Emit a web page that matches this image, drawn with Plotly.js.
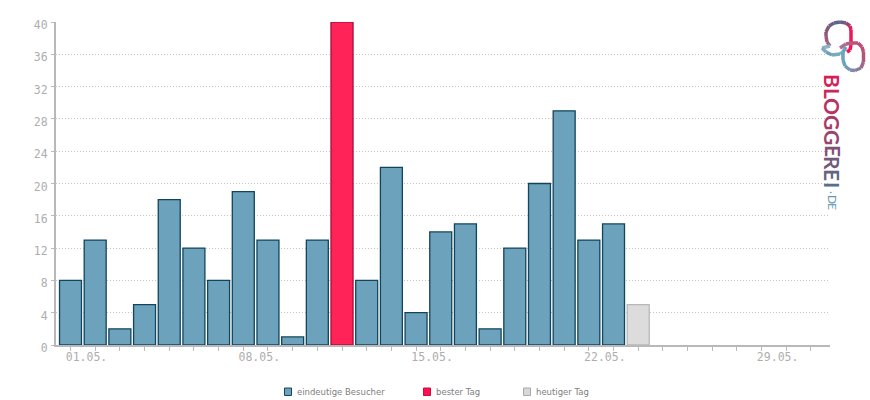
<!DOCTYPE html>
<html><head><meta charset="utf-8">
<script src="https://cdn.plot.ly/plotly-3.0.1.min.js"></script>
<style>html,body{margin:0;padding:0;background:#fff}</style></head>
<body><div id="chart" style="width:870px;height:400px"></div>
<script>
const visitorDays = [1,2,3,4,5,6,7,8,9,10,11,13,14,15,16,17,18,19,20,21,22,23];
const visitorValues = [8,13,2,5,18,12,8,19,13,1,13,8,22,4,14,15,2,12,20,29,13,15];
const bestDays = [12];
const bestValues = [40];
const todayDays = [24];
const todayValues = [5];
const allDays = Array.from({length:31},(_, i)=>i+1);
const dayLabels = {1:"01.05.",8:"08.05.",15:"15.05.",22:"22.05.",29:"29.05."};
const yTicks = [0,4,8,12,16,20,24,28,32,36,40];
const seriesNames = ["eindeutige Besucher","bester Tag","heutiger Tag"];

const L=56,R=830,T=22,B=345,W=870,H=400;
const px=x=>(x-L)/(R-L), py=y=>(B-y)/(B-T);
const bar=(x,y,name,fill,line,lw)=>({type:"bar",x,y,name,width:0.89,cliponaxis:false,
  marker:{color:fill,line:{color:line,width:lw}},hoverinfo:"x+y"});
const traces=[
  bar(visitorDays,visitorValues,seriesNames[0],"#6ca2bb","#10455c",1.3),
  bar(bestDays,bestValues,seriesNames[1],"#ff2358","#b0103c",1.4),
  bar(todayDays,todayValues,seriesNames[2],"#dcdcdc","#b8b8b8",1.3)
];

/* legend */
const legendX=[284,423,523];
const legendFill=["#6ca2bb","#ff0f4f","#d8d8d8"];
const legendEdge=["#10455c","#c8103f","#a8a8a8"];
const legendShapes=legendX.map((x,i)=>({type:"rect",xref:"paper",yref:"paper",layer:"above",
  x0:px(x+0.5),x1:px(x+7.5),y0:py(388),y1:py(395.5),fillcolor:legendFill[i],line:{color:legendEdge[i],width:1}}));
const legendAnn=legendX.map((x,i)=>({text:seriesNames[i],x:px(x+12),y:py(392),xref:"paper",yref:"paper",showarrow:false,
  xanchor:"left",yanchor:"middle",xshift:-1,font:{family:"'DejaVu Sans', sans-serif",size:8.5,color:"#808080"}}));

/* logo strokes */
const hex=h=>[1,3,5].map(i=>parseInt(h.substr(i,2),16));
function mix(a,b,t){a=hex(a);b=hex(b);return "rgb("+a.map((v,i)=>Math.round(v+(b[i]-v)*t)).join(",")+")";}
const logoStrokes=[
 {pts:[[830,46],[827,42],[826,36],[826,32],[829,26],[834,23],[840,22],[846,23],[850,26],[851,30],[851,45],[850,50],[847,52]],
  cols:["#a3617f","#8b5578","#4f6b8e","#e81c58","#ff0f4f"]},
 {pts:[[830,46],[822,48],[826,52],[832,55],[840,54],[843,52]],cols:["#8fb3c6","#6ca2bb","#7fb2c6"]},
 {pts:[[840,48],[846,44],[852,43],[858,43],[862,47],[863.5,52],[863.5,62],[861,68],[855,70.5],[850,70],[845,66],[843,60],[843,52],[846,47]],
  cols:["#a9708f","#c04a72","#b25578","#8a7da0","#6ca2bb","#6ca2bb"]}
];
const logoShapes=[];
logoStrokes.forEach(s=>{
  const n=s.pts.length-1;
  for(let i=0;i<n;i++){
    const t=i/(n-1||1)*(s.cols.length-1), k=Math.min(Math.floor(t),s.cols.length-2);
    const [a,b]=[s.pts[i],s.pts[i+1]];
    logoShapes.push({type:"line",xref:"paper",yref:"paper",layer:"above",
      x0:px(a[0]),y0:py(a[1]),x1:px(b[0]),y1:py(b[1]),
      line:{color:mix(s.cols[k],s.cols[k+1],t-k),width:3.5}});
  }
});
const logoLetters=[["B",81,"#d81e58"],["L",93,"#c9285c"],["O",106,"#b93263"],["G",122,"#a83b69"],["G",137,"#96466f"],
  ["E",151,"#825074"],["R",163,"#705a7c"],["E",175,"#5f6585"],["I",185,"#566f8d"]];
const logoSmall=[[".",192,"#5b8aa6"],["D",199,"#6597b2"],["E",206,"#6ca2bb"]];
const logoAnn=[];
logoLetters.forEach(l=>logoAnn.push({text:l[0],x:px(833),y:py(l[1]),xref:"paper",yref:"paper",showarrow:false,
  textangle:90,xanchor:"center",yanchor:"middle",font:{family:"Lato, 'Open Sans', sans-serif",size:21,color:l[2],weight:700}}));
logoSmall.forEach(l=>logoAnn.push({text:l[0],x:px(l[0]=="."?835:833),y:py(l[1]),xref:"paper",yref:"paper",showarrow:false,
  textangle:90,xanchor:"center",yanchor:"middle",font:{family:"Lato, 'Open Sans', sans-serif",size:12,color:l[2]}}));

const layout={
  width:W,height:H,paper_bgcolor:"#fff",plot_bgcolor:"#fff",
  margin:{l:L,r:W-R,t:T,b:H-B,pad:0,autoexpand:false},barmode:"overlay",bargap:0,
  font:{family:"'DejaVu Sans Mono', monospace",size:11,color:"#aeaeae"},
  xaxis:{range:[0.4125,31.77],tickmode:"array",tickvals:allDays,ticktext:allDays.map(d=>dayLabels[d]||""),
    ticks:"outside",ticklen:4,tickwidth:1,tickcolor:"#bbbbbb",showgrid:false,zeroline:false,
    showline:true,linecolor:"#b8b8b8",linewidth:2,ticklabelshift:16,ticklabelstandoff:-4,tickangle:0,
    tickfont:{family:"'DejaVu Sans Mono', monospace",size:11.5,color:"#aeaeae"}},
  yaxis:{range:[0,40],tickmode:"array",tickvals:yTicks,ticks:"outside",ticklen:3,tickwidth:1,tickcolor:"#bbbbbb",
    showgrid:true,gridcolor:"#c4c4c4",griddash:"1px,2px",gridwidth:1,zeroline:false,
    showline:true,linecolor:"#b8b8b8",linewidth:2,ticklabelshift:3,ticklabelstandoff:1,
    tickfont:{family:"'DejaVu Sans Mono', monospace",size:11.5,color:"#aeaeae"}},
  showlegend:false,
  shapes:logoShapes.concat(legendShapes),annotations:logoAnn.concat(legendAnn)
};
Plotly.newPlot("chart",traces,layout,{displayModeBar:false,staticPlot:true});
</script></body></html>
